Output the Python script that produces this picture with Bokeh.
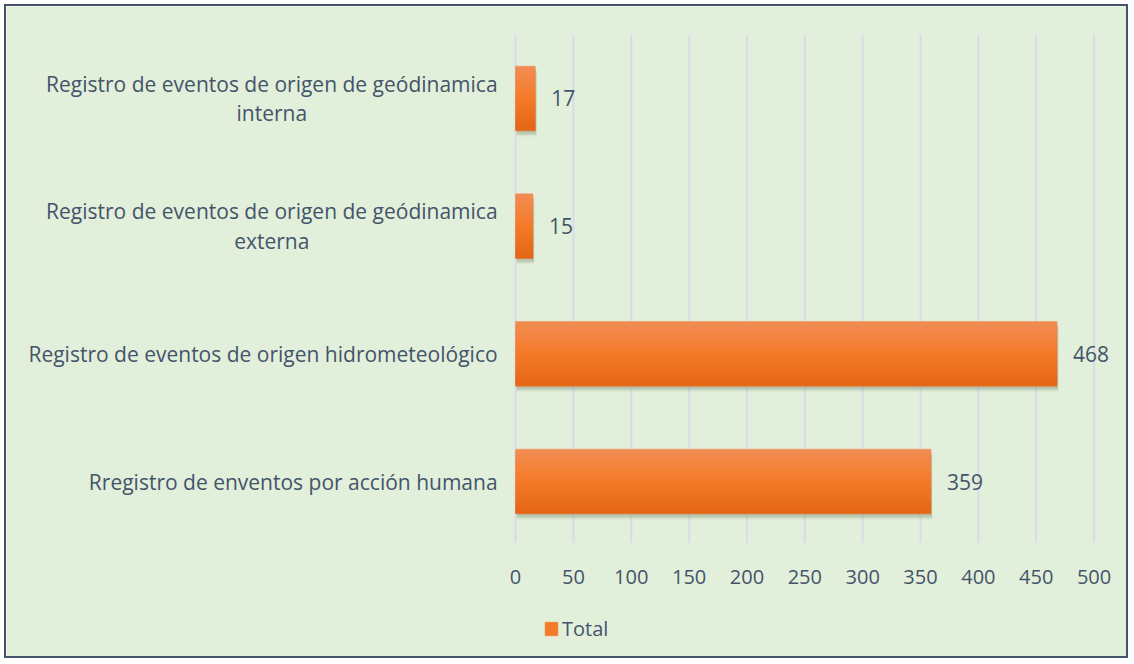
from bokeh.plotting import figure
from bokeh.models import Range1d, ColumnDataSource, Legend, LegendItem
from bokeh.transform import dodge
from bokeh.core.properties import value
from bokeh.embed import file_html
from bokeh.resources import INLINE

categories = [
    "Registro de eventos de origen de geódinamica\ninterna",
    "Registro de eventos de origen de geódinamica\nexterna",
    "Registro de eventos de origen hidrometeológico",
    "Rregistro de enventos por acción humana",
]
totals = [17, 15, 468, 359]
x_ticks = [0, 50, 100, 150, 200, 250, 300, 350, 400, 450, 500]
series_name = "Total"

FONT = "Open Sans"
TXT = "#44546A"
BG = "#E2EFDA"

n_cat = len(categories)
ypos = [n_cat - 1 - i for i in range(n_cat)]  # first category on top
src = ColumnDataSource(dict(cat=categories, y=ypos, val=totals, lab=[str(v) for v in totals]))
tick_src = ColumnDataSource(dict(x=x_ticks, lab=[str(t) for t in x_ticks],
                                 y0=[-0.5] * len(x_ticks), y1=[n_cat - 0.5] * len(x_ticks)))

p = figure(
    width=1124, height=654,
    x_range=Range1d(-440.0, 531.5),
    y_range=Range1d(-1.402, 3.7206),
    output_backend="svg", toolbar_location=None,
    min_border=0,
)
p.background_fill_color = BG
p.border_fill_color = BG
p.outline_line_color = None
p.styles = {"border": "2px solid #44546A", "box-sizing": "border-box", "margin": "4px 0 0 4px"}
p.xaxis.visible = False
p.yaxis.visible = False
p.xgrid.visible = False
p.ygrid.visible = False

# vertical gridlines
p.segment(x0="x", y0=dodge("y0", 0.02), x1="x", y1="y1", source=tick_src,
          line_color="#D9DCE6", line_width=2)

# tick labels
p.text(x="x", y="y0", text="lab", source=tick_src, y_offset=32,
       text_align="center", text_baseline="middle",
       text_font=value(FONT), text_font_size="20px", text_color=TXT)

# soft shadow under the bars
for d, a in [(-0.045, 0.10), (-0.035, 0.14), (-0.025, 0.18)]:
    p.hbar(y=dodge("y", d), right=dodge("val", 1.0), left=1, height=0.5,
           source=src, fill_color="#6F7F66", fill_alpha=a, line_color=None)

# gradient-like bar built from thin strips (top light -> bottom dark)
top = (0xF2, 0x8C, 0x52)
mid = (0xF4, 0x7B, 0x2A)
bot = (0xE5, 0x67, 0x17)
n = 24
r_main = None
for i in range(n):
    t = i / (n - 1)
    if t < 0.5:
        a, b, u = top, mid, t / 0.5
    else:
        a, b, u = mid, bot, (t - 0.5) / 0.5
    col = "#%02X%02X%02X" % tuple(int(round(a[k] + (b[k] - a[k]) * u)) for k in range(3))
    off = 0.25 - (i + 0.5) * (0.5 / n)
    r = p.hbar(y=dodge("y", off), right="val", left=0,
               height=0.5 / n + 0.006, source=src, fill_color=col, line_color=col,
               line_width=0.5)
    if i == n // 2:
        r_main = r

# value labels
p.text(x="val", y="y", text="lab", source=src, x_offset=16,
       text_align="left", text_baseline="middle",
       text_font=value(FONT), text_font_size="21px", text_color=TXT)

# category labels: block right-aligned, lines centered
p.text(x=0, y="y", text="cat", source=src, x_offset=-18,
       text_align="center", anchor="center_right", text_baseline="middle",
       text_line_height=1.05,
       text_font=value(FONT), text_font_size="21px", text_color=TXT)

legend = Legend(items=[LegendItem(label=series_name, renderers=[r_main])],
                location=(537, 18), background_fill_alpha=0, border_line_color=None,
                label_text_font=FONT, label_text_font_size="20px", label_text_color=TXT,
                glyph_width=16, glyph_height=17, label_standoff=3, padding=0, margin=0)
p.add_layout(legend, "center")

open("out.html", "w").write(file_html(p, INLINE))
